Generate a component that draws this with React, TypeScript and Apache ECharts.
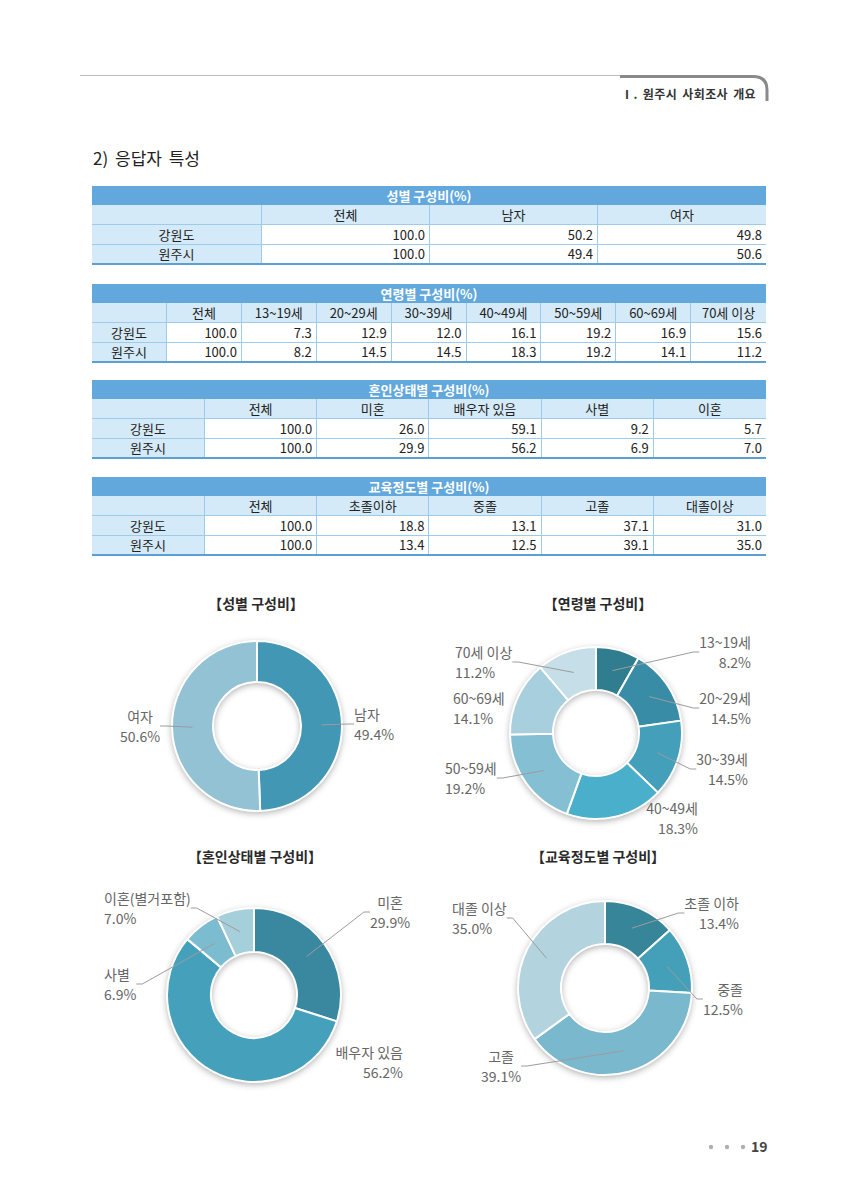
import React, { useEffect, useRef } from 'react';
import * as echarts from 'echarts';

const FONT = '"Noto Sans CJK KR", "Noto Sans", sans-serif';

// ---------- table data ----------
const rowNames = ['강원도', '원주시'];
const sexCols = ['전체', '남자', '여자'];
const sexGangwon = [100.0, 50.2, 49.8];
const sexWonju = [100.0, 49.4, 50.6];
const ageCols = ['전체', '13~19세', '20~29세', '30~39세', '40~49세', '50~59세', '60~69세', '70세 이상'];
const ageGangwon = [100.0, 7.3, 12.9, 12.0, 16.1, 19.2, 16.9, 15.6];
const ageWonju = [100.0, 8.2, 14.5, 14.5, 18.3, 19.2, 14.1, 11.2];
const marCols = ['전체', '미혼', '배우자 있음', '사별', '이혼'];
const marGangwon = [100.0, 26.0, 59.1, 9.2, 5.7];
const marWonju = [100.0, 29.9, 56.2, 6.9, 7.0];
const eduCols = ['전체', '초졸이하', '중졸', '고졸', '대졸이상'];
const eduGangwon = [100.0, 18.8, 13.1, 37.1, 31.0];
const eduWonju = [100.0, 13.4, 12.5, 39.1, 35.0];

// ---------- pie data ----------
const genderNames = ['남자', '여자'];
const genderValues = [49.4, 50.6];
const ageNames = ['13~19세', '20~29세', '30~39세', '40~49세', '50~59세', '60~69세', '70세 이상'];
const ageValues = [8.2, 14.5, 14.5, 18.3, 19.2, 14.1, 11.2];
const maritalNames = ['미혼', '배우자 있음', '사별', '이혼(별거포함)'];
const maritalValues = [29.9, 56.2, 6.9, 7.0];
const eduNames = ['초졸 이하', '중졸', '고졸', '대졸 이상'];
const eduValues = [13.4, 12.5, 39.1, 35.0];

// ---------- styles ----------
const genderColors = ['#4197b4', '#93c2d5'];
const ageColors = ['#2f7d8f', '#398ca6', '#439fba', '#4aafca', '#84bfd3', '#a8cfdd', '#c6dee7'];
const maritalColors = ['#3a889f', '#45a1bb', '#7cbcd0', '#a6cfdc'];
const eduColors = ['#378599', '#44a0b9', '#7ab8ce', '#b3d4df'];

// label anchor placement (x, y, align) and which labels have no guide line
const genderLabelPos: [number, number, string][] = [[354, 724, 'left'], [140, 726, 'center']];
const ageLabelPos: [number, number, string][] = [
  [751, 652, 'right'], [751, 708, 'right'], [748, 769, 'right'], [698, 818, 'right'],
  [445, 778, 'left'], [453, 708, 'left'], [455, 662, 'left'],
];
const maritalLabelPos: [number, number, string][] = [
  [390, 912, 'center'], [403, 1062, 'right'], [104, 984, 'left'], [104, 908, 'left'],
];
const eduLabelPos: [number, number, string][] = [
  [739, 913, 'right'], [743, 999, 'right'], [501, 1066, 'center'], [452, 918, 'left'],
];
const genderNoLine: number[] = [];
const ageNoLine = [3, 5];
const maritalNoLine = [1];
const eduNoLine: number[] = [];

const pies = [
  { names: genderNames, values: genderValues, colors: genderColors, center: [257, 726], radius: [44, 85], labels: genderLabelPos, noLine: genderNoLine, title: '【성별 구성비】', titlePos: [256, 603] },
  { names: ageNames, values: ageValues, colors: ageColors, center: [596, 733], radius: [43, 86], labels: ageLabelPos, noLine: ageNoLine, title: '【연령별 구성비】', titlePos: [598, 603] },
  { names: maritalNames, values: maritalValues, colors: maritalColors, center: [254, 995], radius: [43, 87], labels: maritalLabelPos, noLine: maritalNoLine, title: '【혼인상태별 구성비】', titlePos: [255, 856] },
  { names: eduNames, values: eduValues, colors: eduColors, center: [605, 988], radius: [44, 87], labels: eduLabelPos, noLine: eduNoLine, title: '【교육정도별 구성비】', titlePos: [598, 856] },
];

function buildOption(): any {
  const series: any[] = [];
  pies.forEach((p) => {
    const midR = (p.radius[0] + p.radius[1]) / 2;
    series.push({
      type: 'pie', silent: true, center: p.center, radius: p.radius, startAngle: 90,
      data: [{ value: 1, name: '' }],
      itemStyle: { color: '#ffffff', shadowBlur: 7, shadowColor: 'rgba(0,0,0,0.35)', shadowOffsetY: 2 },
      label: { show: false }, labelLine: { show: false }, emphasis: { disabled: true }, z: 1,
    });
    series.push({
      type: 'pie', silent: true, center: p.center, radius: p.radius, startAngle: 90, clockwise: true,
      data: p.names.map((n, i) => ({ name: n, value: p.values[i], itemStyle: { color: p.colors[i] } })),
      itemStyle: { borderColor: '#ffffff', borderWidth: 2 },
      label: { show: false }, labelLine: { show: false }, emphasis: { disabled: true }, z: 2,
    });
    series.push({
      type: 'pie', silent: true, center: p.center, radius: [p.radius[0], midR], startAngle: 90, clockwise: true,
      avoidLabelOverlap: false,
      data: p.names.map((n, i) => ({
        name: n, value: p.values[i],
        labelLine: p.noLine.indexOf(i) >= 0 ? { show: false } : undefined,
      })),
      itemStyle: { color: 'rgba(0,0,0,0)' },
      label: {
        show: true, position: 'outside', color: '#666666', fontSize: 14, lineHeight: 20, fontFamily: FONT,
        formatter: (d: any) => `${d.name}\n${Number(d.value).toFixed(1)}%`,
      },
      labelLine: { show: true, length: 10, length2: 6, lineStyle: { color: '#9c9c9c', width: 1 } },
      labelLayout: (d: any) => {
        const pos = p.labels[d.dataIndex];
        return { x: pos[0], y: pos[1], align: pos[2], verticalAlign: 'middle' };
      },
      emphasis: { disabled: true }, z: 3,
    });
  });
  return {
    animation: false,
    graphic: pies.map((p) => ({
      type: 'text', x: p.titlePos[0], y: p.titlePos[1],
      style: {
        text: p.title, fill: '#2a2a2a', fontSize: 14, fontWeight: 'bold', fontFamily: FONT,
        align: 'center', verticalAlign: 'middle', textAlign: 'center', textVerticalAlign: 'middle',
      },
    })),
    series,
  };
}

const LIGHT = '#d5eaf8';
const LINE = '#9ccbec';

function DataTable({ top, title, cols, labelWidth, rows }: any) {
  const total = 674;
  const cw = (total - labelWidth) / cols.length;
  return (
    <div style={{ position: 'absolute', left: 92, top, width: total, fontSize: 13, color: '#222' }}>
      <div style={{ height: 19, lineHeight: '19px', background: '#63a8dc', color: '#fff', fontWeight: 700, textAlign: 'center' }}>{title}</div>
      <div style={{ display: 'flex', height: 20, lineHeight: '19px', boxSizing: 'border-box', background: LIGHT, borderBottom: `1px solid ${LINE}` }}>
        <div style={{ width: labelWidth, boxSizing: 'border-box', borderRight: `1px solid ${LINE}` }} />
        {cols.map((c: string, i: number) => (
          <div key={i} style={{ width: cw, boxSizing: 'border-box', borderRight: i < cols.length - 1 ? `1px solid ${LINE}` : 'none', textAlign: 'center' }}>{c}</div>
        ))}
      </div>
      {rows.map((r: any, ri: number) => (
        <div key={ri} style={{ display: 'flex', height: 20, lineHeight: ri === rows.length - 1 ? '18px' : '19px', boxSizing: 'border-box', borderBottom: ri === rows.length - 1 ? '2px solid #5b9fd5' : `1px solid ${LINE}` }}>
          <div style={{ width: labelWidth, boxSizing: 'border-box', background: LIGHT, textAlign: 'center', borderRight: `1px solid ${LINE}` }}>{r.name}</div>
          {r.values.map((v: number, i: number) => (
            <div key={i} style={{ width: cw, boxSizing: 'border-box', textAlign: 'right', paddingRight: 4, borderRight: i < r.values.length - 1 ? `1px solid ${LINE}` : 'none' }}>{v.toFixed(1)}</div>
          ))}
        </div>
      ))}
    </div>
  );
}

export default function App() {
  const ref = useRef<HTMLDivElement>(null);
  useEffect(() => {
    const chart = echarts.init(ref.current as HTMLDivElement, null, { renderer: 'svg' });
    chart.setOption(buildOption());
    return () => chart.dispose();
  }, []);
  return (
    <div style={{ position: 'absolute', left: 0, top: 0, width: 848, height: 1200, background: '#fff', overflow: 'hidden', fontFamily: FONT }}>
      <div ref={ref} style={{ position: 'absolute', left: 0, top: 0, width: 848, height: 1200 }} />
      <svg style={{ position: 'absolute', left: 0, top: 0 }} width={848} height={120}>
        <path d="M80 75.5 H622" stroke="#bdbdbd" strokeWidth={1} fill="none" />
        <path d="M620 76.5 H753 Q767 76.5 767 90 V101" stroke="#8a8a8a" strokeWidth={3} fill="none" />
      </svg>
      <div style={{ position: 'absolute', left: 621, top: 85, fontSize: 12, fontWeight: 700, color: '#333', lineHeight: '18px', whiteSpace: 'nowrap', letterSpacing: '0.4px', wordSpacing: '2px' }}>Ⅰ. 원주시 사회조사 개요</div>
      <div style={{ position: 'absolute', left: 93, top: 146, fontSize: 17, color: '#222', lineHeight: '24px', wordSpacing: '3px' }}>2) 응답자 특성</div>
      <DataTable top={186} title="성별 구성비(%)" cols={sexCols} labelWidth={170}
        rows={[{ name: rowNames[0], values: sexGangwon }, { name: rowNames[1], values: sexWonju }]} />
      <DataTable top={284} title="연령별 구성비(%)" cols={ageCols} labelWidth={75}
        rows={[{ name: rowNames[0], values: ageGangwon }, { name: rowNames[1], values: ageWonju }]} />
      <DataTable top={380} title="혼인상태별 구성비(%)" cols={marCols} labelWidth={113}
        rows={[{ name: rowNames[0], values: marGangwon }, { name: rowNames[1], values: marWonju }]} />
      <DataTable top={477} title="교육정도별 구성비(%)" cols={eduCols} labelWidth={113}
        rows={[{ name: rowNames[0], values: eduGangwon }, { name: rowNames[1], values: eduWonju }]} />
      <svg style={{ position: 'absolute', left: 700, top: 1138 }} width={60} height={18}>
        <circle cx={11} cy={9} r={2.2} fill="#b0b0b0" />
        <circle cx={27} cy={9} r={2.2} fill="#b0b0b0" />
        <circle cx={43} cy={9} r={2.2} fill="#b0b0b0" />
      </svg>
      <div style={{ position: 'absolute', left: 751, top: 1137, fontSize: 14, fontWeight: 700, color: '#444', lineHeight: '18px' }}>19</div>
    </div>
  );
}
